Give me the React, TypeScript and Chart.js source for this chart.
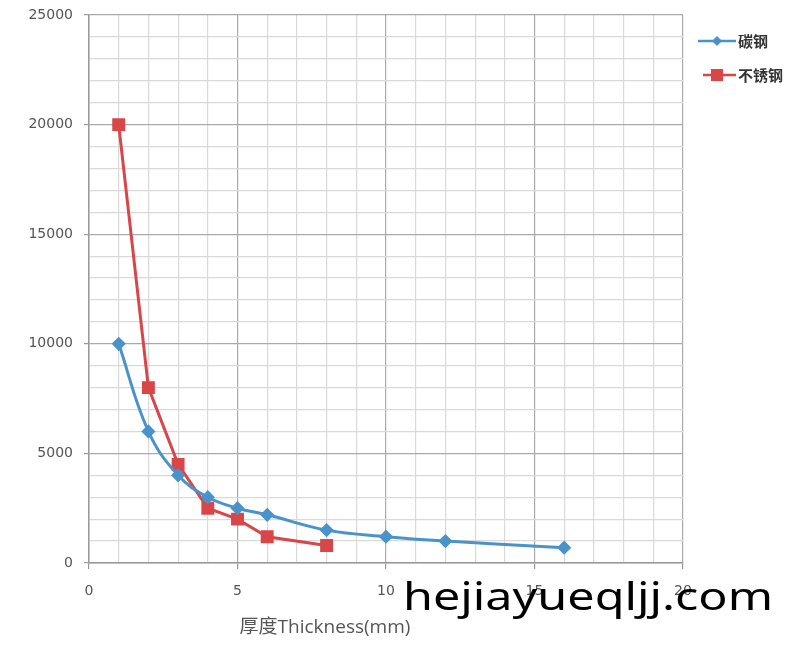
import React, { useEffect, useRef } from "react";
import { Chart, registerables } from "chart.js";

Chart.register(...registerables);

const carbonX = [1, 2, 3, 4, 5, 6, 8, 10, 12, 16];
const carbonY = [10000, 6000, 4000, 3000, 2500, 2200, 1500, 1200, 1000, 700];
const stainlessX = [1, 2, 3, 4, 5, 6, 8];
const stainlessY = [20000, 8000, 4500, 2500, 2000, 1200, 800];
const seriesNames = ["碳钢", "不锈钢"];
const xTitle = "厚度Thickness(mm)";
const watermark = "hejiayueqljj.com";

const BLUE = "#4a93c9";
const RED = "#d9464a";

const overlayPlugin = {
  id: "overlay",
  afterDraw(chart: any) {
    const ctx = chart.ctx;
    ctx.save();
    // x-axis title
    ctx.fillStyle = "#555";
    ctx.font = "19px 'Open Sans', 'Noto Sans CJK SC', sans-serif";
    ctx.textAlign = "center";
    ctx.textBaseline = "alphabetic";
    ctx.fillText(xTitle, 325, 633);

    // legend
    const items = [
      { name: seriesNames[0], color: BLUE, style: "diamond", y: 41, x0: 698 },
      { name: seriesNames[1], color: RED, style: "square", y: 75, x0: 703 },
    ];
    for (const it of items) {
      ctx.strokeStyle = it.color;
      ctx.lineWidth = 2.5;
      ctx.beginPath();
      ctx.moveTo(it.x0, it.y);
      ctx.lineTo(736, it.y);
      ctx.stroke();
      ctx.fillStyle = it.color;
      const cx = 717;
      if (it.style === "diamond") {
        ctx.beginPath();
        ctx.moveTo(cx, it.y - 5);
        ctx.lineTo(cx + 5, it.y);
        ctx.lineTo(cx, it.y + 5);
        ctx.lineTo(cx - 5, it.y);
        ctx.closePath();
        ctx.fill();
      } else {
        ctx.fillRect(cx - 6, it.y - 6, 12, 12);
      }
      ctx.fillStyle = "#333";
      ctx.font = "bold 15px 'Noto Sans CJK SC', sans-serif";
      ctx.textAlign = "left";
      ctx.textBaseline = "middle";
      ctx.fillText(it.name, 738, it.y);
    }

    // watermark text, stretched to its width in the reference
    ctx.fillStyle = "#000";
    ctx.font = "39px 'Noto Sans', sans-serif";
    ctx.textAlign = "left";
    ctx.textBaseline = "alphabetic";
    const w = ctx.measureText(watermark).width;
    const sx = 370 / w;
    ctx.translate(403, 610);
    ctx.scale(sx, 1);
    ctx.fillText(watermark, 0, 0);
    ctx.restore();
  },
};

export default function App() {
  const ref = useRef<HTMLCanvasElement>(null);
  useEffect(() => {
    document.body.style.margin = "0";
    const chart = new Chart(ref.current!, {
      type: "line",
      data: {
        datasets: [
          {
            label: seriesNames[0],
            data: carbonX.map((x, i) => ({ x, y: carbonY[i] })),
            borderColor: BLUE,
            backgroundColor: BLUE,
            borderWidth: 3,
            pointStyle: "rectRot",
            pointRadius: 5,
            tension: 0.4,
          },
          {
            label: seriesNames[1],
            data: stainlessX.map((x, i) => ({ x, y: stainlessY[i] })),
            borderColor: RED,
            backgroundColor: RED,
            borderWidth: 3,
            pointStyle: "rect",
            pointRadius: 7,
            tension: 0,
          },
        ],
      },
      options: {
        animation: false,
        responsive: false,
        layout: { padding: { top: 15, right: 117, left: 0, bottom: 0 } },
        plugins: { legend: { display: false }, tooltip: { enabled: false } },
        scales: {
          x: {
            type: "linear",
            min: 0,
            max: 20,
            afterFit(scale: any) {
              scale.height = 647 - 563;
              scale.paddingLeft = 0;
              scale.paddingRight = 0;
            },
            border: { color: "#999", width: 1.5 },
            grid: {
              color: (c: any) => (c.tick && c.tick.value % 5 === 0 ? "#aaa" : "#d9d9d9"),
              lineWidth: 1.2,
              tickColor: (c: any) => (c.tick && c.tick.value % 5 === 0 ? "#999" : "rgba(0,0,0,0)"),
              tickLength: 6,
            },
            ticks: {
              stepSize: 1,
              autoSkip: false,
              maxRotation: 0,
              padding: 14,
              color: "#555",
              font: { size: 14, family: "'DejaVu Sans', sans-serif" },
              callback: (v: any) => (v % 5 === 0 ? String(v) : ""),
            },
          },
          y: {
            type: "linear",
            min: 0,
            max: 25000,
            afterFit(scale: any) {
              scale.width = 89;
              scale.paddingTop = 0;
              scale.paddingBottom = 0;
            },
            border: { color: "#999", width: 1.5 },
            grid: {
              color: (c: any) => (c.tick && c.tick.value % 5000 === 0 ? "#aaa" : "#d9d9d9"),
              lineWidth: 1.2,
              tickColor: (c: any) => (c.tick && c.tick.value % 5000 === 0 ? "#999" : "rgba(0,0,0,0)"),
              tickLength: 5,
            },
            ticks: {
              stepSize: 1000,
              autoSkip: false,
              padding: 11,
              color: "#555",
              font: { size: 14, family: "'DejaVu Sans', sans-serif" },
              callback: (v: any) => (v % 5000 === 0 ? String(v) : ""),
            },
          },
        },
      },
      plugins: [overlayPlugin],
    } as any);
    return () => chart.destroy();
  }, []);
  return (
    <div style={{ position: "relative", width: 800, height: 647, background: "#fff" }}>
      <canvas ref={ref} width={800} height={647} style={{ display: "block" }} />
    </div>
  );
}
